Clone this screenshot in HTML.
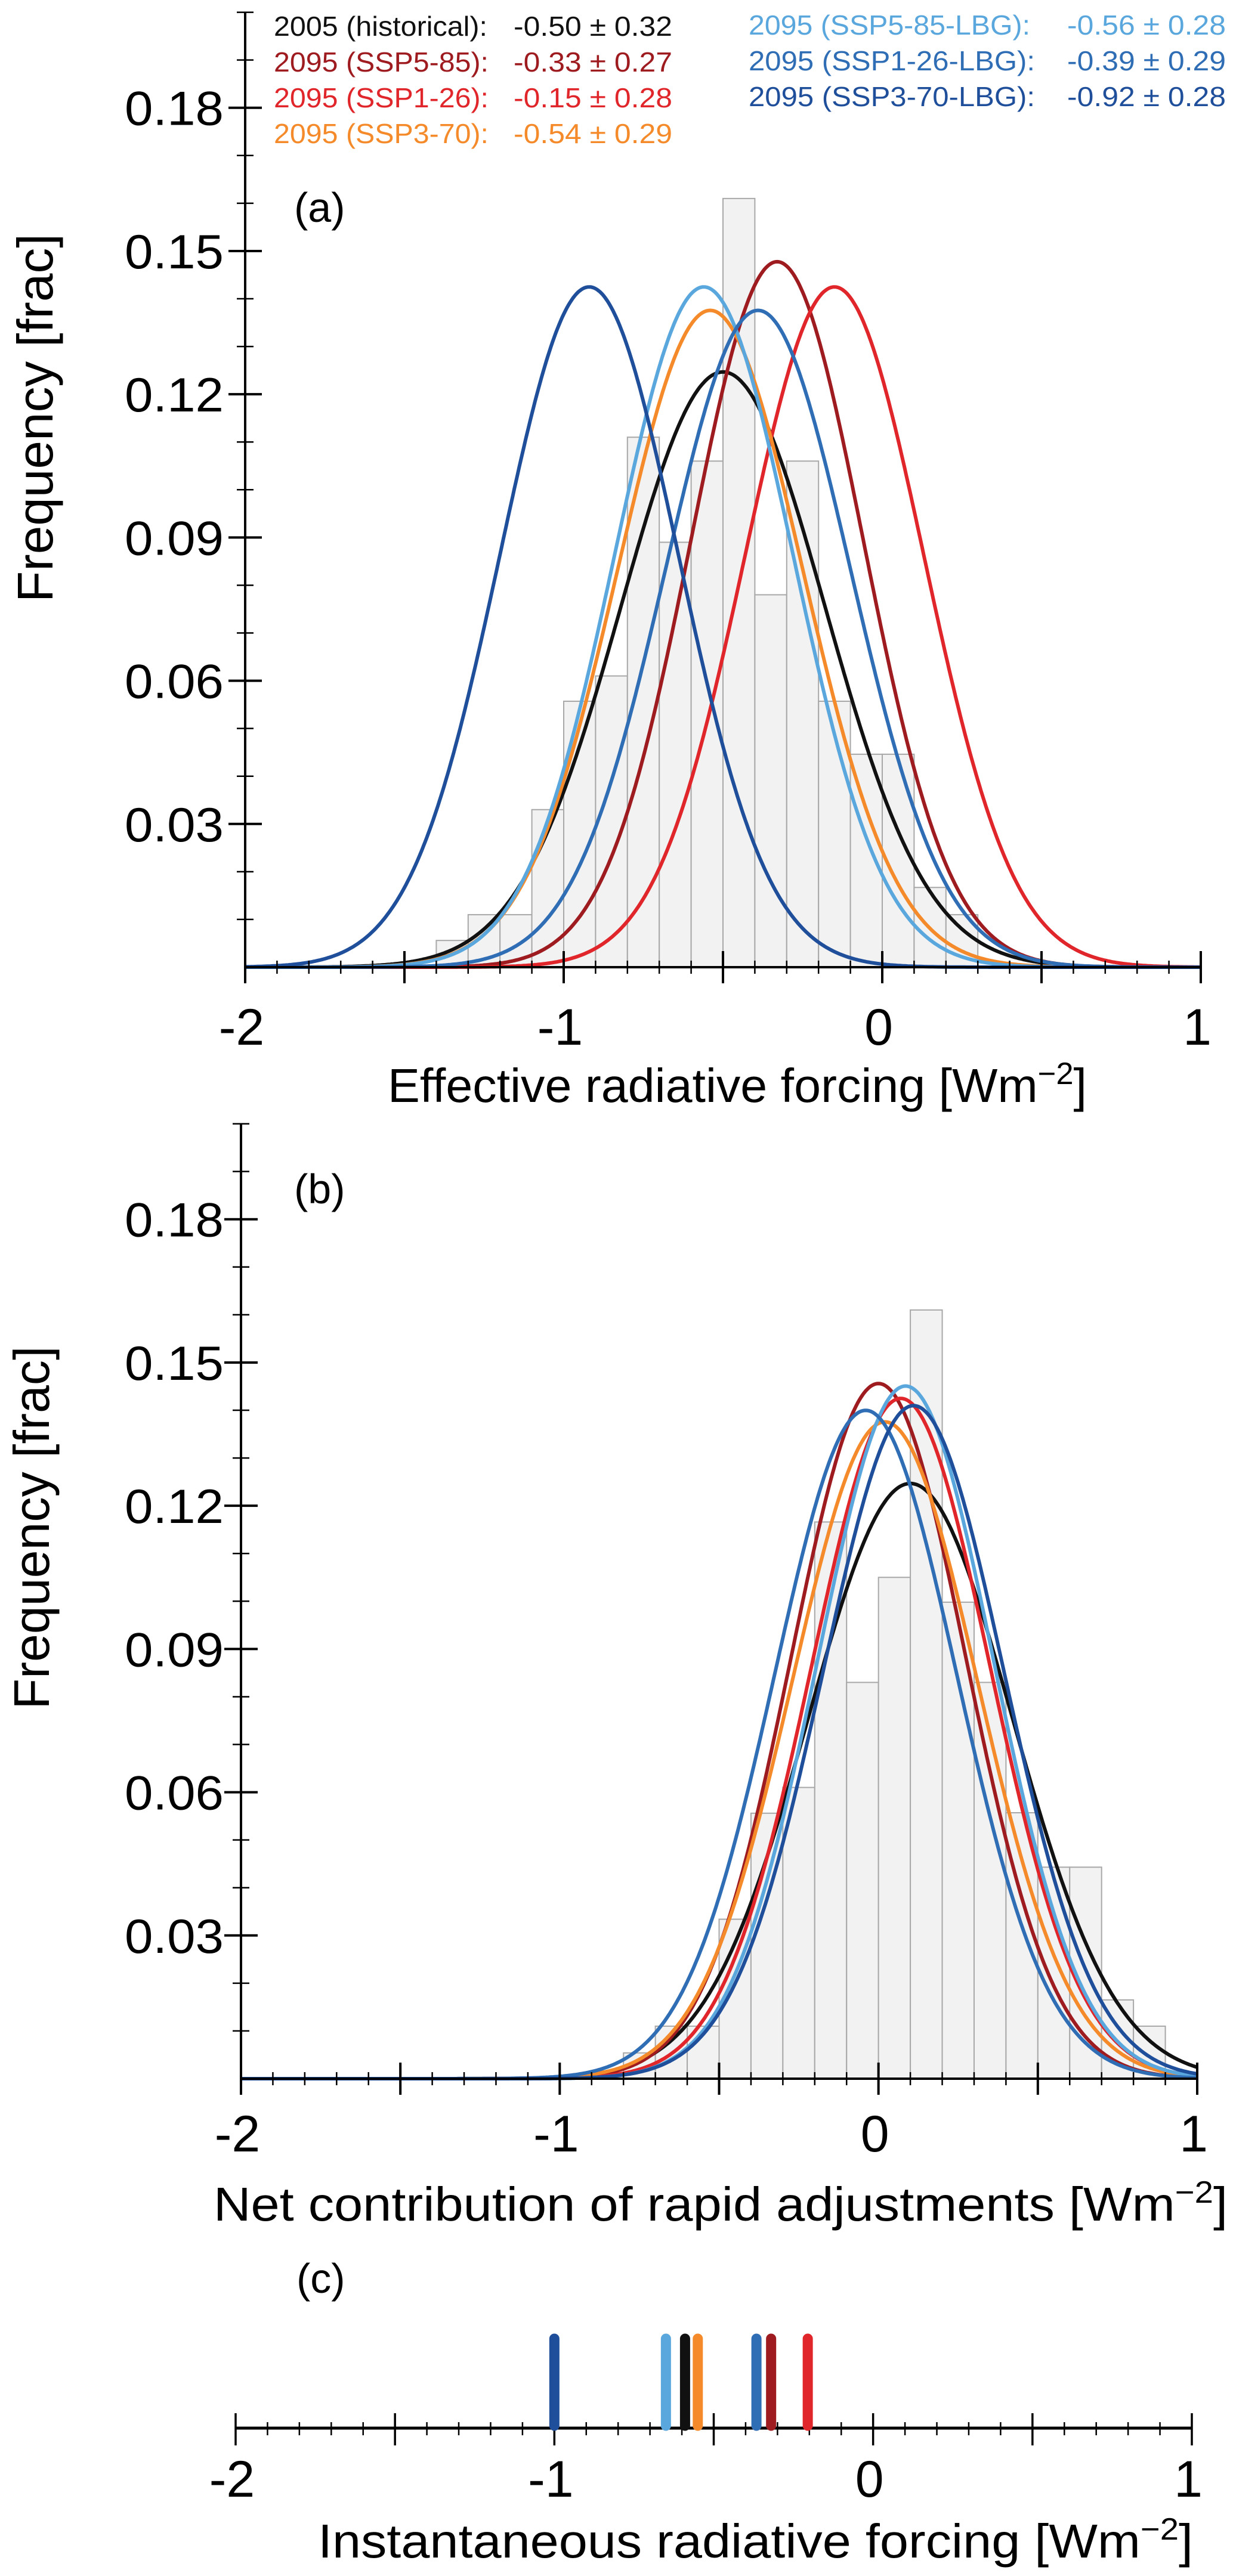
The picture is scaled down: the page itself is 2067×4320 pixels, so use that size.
<!DOCTYPE html>
<html><head><meta charset="utf-8"><style>
html,body{margin:0;padding:0;background:#fff;}
svg{display:block;font-family:"Liberation Sans",Arial,sans-serif;}
</style></head><body>
<svg id="fig" width="2067" height="4320" viewBox="0 0 2067 4320" xmlns="http://www.w3.org/2000/svg"></svg>
<script>
// ---- data ----
const binStartsA = [-1.4,-1.3,-1.2,-1.1,-1.0,-0.9,-0.8,-0.7,-0.6,-0.5,-0.4,-0.3,-0.2,-0.1,0.0,0.1,0.2];
const binFreqA   = [0.0056,0.011,0.011,0.033,0.0557,0.061,0.111,0.089,0.106,0.161,0.078,0.106,0.0557,0.0446,0.0446,0.0167,0.011];
const binStartsB = [-0.8,-0.7,-0.6,-0.5,-0.4,-0.3,-0.2,-0.1,0.0,0.1,0.2,0.3,0.4,0.5,0.6,0.7,0.8];
const binFreqB   = [0.0054,0.011,0.011,0.0334,0.0556,0.061,0.1166,0.083,0.105,0.161,0.0998,0.083,0.0557,0.0443,0.0443,0.0165,0.011];
const seriesNames = ["historical","ssp5-85","ssp1-26","ssp3-70","ssp5-85-lbg","ssp1-26-lbg","ssp3-70-lbg"];
const seriesColors = ["#111111","#9e1b20","#e0262a","#f58a2a","#5aa7de","#2f6db5","#1f4f9a"];
const meansA = [-0.50,-0.33,-0.15,-0.54,-0.56,-0.39,-0.92];
const sdsA   = [0.32,0.27,0.28,0.29,0.28,0.29,0.28];
const meansB = [0.10,0.00,0.07,0.02,0.085,-0.04,0.11];
const sdsB   = [0.32,0.274,0.28,0.29,0.275,0.285,0.283];
const irfValues = [-0.59,-0.32,-0.205,-0.55,-0.65,-0.366,-1.0];
const legendLabels = ["2005 (historical):","2095 (SSP5-85):","2095 (SSP1-26):","2095 (SSP3-70):","2095 (SSP5-85-LBG):","2095 (SSP1-26-LBG):","2095 (SSP3-70-LBG):"];
const legendValues = ["-0.50 ± 0.32","-0.33 ± 0.27","-0.15 ± 0.28","-0.54 ± 0.29","-0.56 ± 0.28","-0.39 ± 0.29","-0.92 ± 0.28"];
const yTickValues = [0.03,0.06,0.09,0.12,0.15,0.18];
const yTickLabels = ["0.03","0.06","0.09","0.12","0.15","0.18"];
const xTickValues = [-2,-1,0,1];
const xTickLabels = ["-2","-1","0","1"];
const binWidth = 0.1;

const NS="http://www.w3.org/2000/svg";
const svg=document.getElementById('fig');
function mk(tag,attrs,parent){const e=document.createElementNS(NS,tag);for(const k in attrs)e.setAttribute(k,attrs[k]);(parent||svg).appendChild(e);return e;}
function txt(s,attrs,parent){const e=mk('text',attrs,parent);e.textContent=s;return e;}

function panel(p){
  const g=mk('g',{});
  
  
  const X=v=>p.x0+(v+2)*(p.x1-p.x0)/3;
  const Y=v=>p.y0-v*p.ys;
  const hg=mk('g',{},g);
  
  
  p.bs.forEach((b,i)=>{
    const r=mk('rect',{x:X(b),y:Y(p.bf[i]),width:X(b+binWidth)-X(b),height:Y(0)-Y(p.bf[i]),fill:'#f2f2f2',stroke:'#a8a8a8','stroke-width':2},hg);
    
    
  });
  p.means.forEach((m,i)=>{
    const sd=p.sds[i];let d='';
    for(let k=0;k<=600;k++){const v=-2+3*k/600;const f=binWidth/(sd*Math.sqrt(2*Math.PI))*Math.exp(-0.5*((v-m)/sd)**2);d+=(k?'L':'M')+X(v).toFixed(1)+','+Y(f).toFixed(1);}
    const c=mk('path',{d:d,fill:'none',stroke:seriesColors[i],'stroke-width':6},g);
    
    
  });
  const ax=mk('g',{stroke:'#000'},g);
  
  
  mk('line',{x1:p.x0,y1:p.y0,x2:p.x1,y2:p.y0,'stroke-width':4},ax);
  mk('line',{x1:p.x0,y1:p.y0,x2:p.x0,y2:Y(0.2),'stroke-width':4},ax);
  for(let k=0;k<=30;k++){const v=-2+k*0.1;const maj=k%5==0;const L=maj?27:11;
    mk('line',{x1:X(v),y1:p.y0-L,x2:X(v),y2:p.y0+L,'stroke-width':maj?4:2.5},ax);}
  for(let k=1;k<=20;k++){const v=k*0.01;const maj=k%3==0;const L=maj?28:14;
    mk('line',{x1:p.x0-L,y1:Y(v),x2:p.x0+L,y2:Y(v),'stroke-width':maj?4:2.5},ax);}
  yTickValues.forEach((v,i)=>{const t=txt(yTickLabels[i],{x:375,y:Y(v)+29,'font-size':81,'text-anchor':'end',textLength:166,lengthAdjust:'spacingAndGlyphs'},g);
    });
  xTickValues.forEach((v,i)=>{const t=txt(xTickLabels[i],{x:X(v)-6,y:p.xl,'font-size':86,'text-anchor':'middle'},g);
    });
  const yl=txt('Frequency [frac]',{x:0,y:0,'font-size':84,'text-anchor':'middle',textLength:p.ylLen,lengthAdjust:'spacingAndGlyphs',transform:`translate(${p.ylx},${p.ylc}) rotate(-90)`},g);
  
  const xt=mk('text',{x:p.tx,y:p.ty,'font-size':80,textLength:p.tlen,lengthAdjust:'spacingAndGlyphs'},g);
  
  xt.appendChild(document.createTextNode(p.title+' [Wm'));
  const sp=mk('tspan',{dy:-30,'font-size':52},xt);sp.textContent='−2';
  const sp2=mk('tspan',{dy:30},xt);sp2.textContent=']';
  const lab=txt(p.label,{x:493,y:p.labY,'font-size':70},g);
  
}

panel({id:'a',x0:411,x1:2013,y0:1622,ys:8007,bs:binStartsA,bf:binFreqA,means:meansA,sds:sdsA,xl:1752,
  ylx:88,ylc:701,ylLen:618,tx:650,ty:1848,tlen:1172,title:'Effective radiative forcing',label:'(a)',labY:372});
panel({id:'b',x0:404,x1:2007,y0:3486,ys:8007,bs:binStartsB,bf:binFreqB,means:meansB,sds:sdsB,xl:3608,
  ylx:82,ylc:2562,ylLen:609,tx:358,ty:3724,tlen:1700,title:'Net contribution of rapid adjustments',label:'(b)',labY:2018});

const lg=mk('g',{});


const legPos=[[459,861,60],[459,861,120],[459,861,180],[459,861,240],[1255,1789,58],[1255,1789,118],[1255,1789,178]];
legendLabels.forEach((s,i)=>{
  const [lx,vx,ly]=legPos[i];
  const e=txt(s,{x:lx,y:ly,'font-size':46,fill:seriesColors[i],textLength:(i<4?(i==0?358:360):(i==4?472:480)),lengthAdjust:'spacingAndGlyphs'},lg);
  
  
  const v=txt(legendValues[i],{x:vx,y:ly,'font-size':46,fill:seriesColors[i],textLength:266,lengthAdjust:'spacingAndGlyphs'},lg);
  
  
});

(function(){
  const g=mk('g',{});
  
  
  const x0=395,x1=1998,y0=4072;
  const X=v=>x0+(v+2)*(x1-x0)/3;
  mk('line',{x1:x0,y1:y0,x2:x1,y2:y0,stroke:'#000','stroke-width':5},g);
  for(let k=0;k<=30;k++){const v=-2+k*0.1;const maj=k%5==0;
    mk('line',{x1:X(v),y1:maj?4047:4062,x2:X(v),y2:maj?4101:4084,stroke:'#000','stroke-width':maj?3.5:2.5},g);}
  irfValues.forEach((v,i)=>{
    const m=mk('line',{x1:X(v),y1:3922,x2:X(v),y2:y0-4,stroke:seriesColors[i],'stroke-width':17,'stroke-linecap':'round'},g);
    
    
  });
  xTickValues.forEach((v,i)=>{const t=txt(xTickLabels[i],{x:X(v)-6,y:4187,'font-size':86,'text-anchor':'middle'},g);
    });
  const xt=mk('text',{x:533,y:4289,'font-size':80,textLength:1467,lengthAdjust:'spacingAndGlyphs'},g);
  
  xt.appendChild(document.createTextNode('Instantaneous radiative forcing [Wm'));
  const sp=mk('tspan',{dy:-30,'font-size':52},xt);sp.textContent='−2';
  const sp2=mk('tspan',{dy:30},xt);sp2.textContent=']';
  const lab=txt('(c)',{x:497,y:3845,'font-size':70},g);
  
})();
</script>
</body></html>
